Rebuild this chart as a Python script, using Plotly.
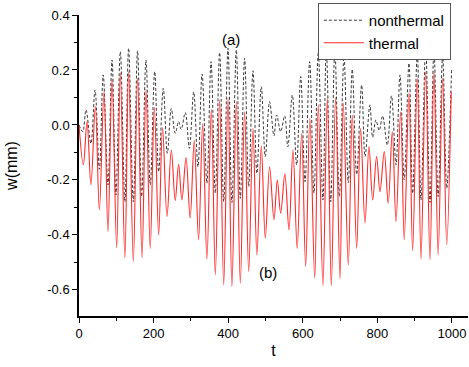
import plotly.graph_objects as go

# nonthermal: local extrema (t, w)
nt_t = [0, 10, 18.8, 32, 43, 54.6, 65, 77.7, 88.5, 99, 110.8, 123, 133, 145.7, 157, 168,
        179.6, 191, 203, 213.6, 226, 236.8, 247.5, 258, 267, 274, 285, 296, 307.5, 319, 330,
        343, 354, 365.5, 377, 388, 399.5, 410, 421.8, 432.5, 444, 455, 466.5, 477, 488.8,
        499.5, 511, 522.8, 530, 540.7, 551.5, 560, 572, 583.6, 594.4, 606, 618.5, 630,
        641.6, 654, 663, 674.8, 686, 698, 710.5, 722, 732.7, 744.5, 757.8, 767, 780, 787.4,
        796, 805, 814, 826.7, 838, 850, 860.6, 872, 884.7, 894.5, 907, 917, 929.5, 941,
        951.7, 963, 975, 986, 999]
nt_w = [0, -0.024, 0.055, -0.067, 0.127, -0.161, 0.182, -0.218, 0.236, -0.255, 0.267,
        -0.279, 0.279, -0.279, 0.27, -0.26, 0.236, -0.218, 0.194, -0.17, 0.133, -0.103,
        0.06, -0.03, 0.012, -0.016, 0.045, -0.085, 0.12, -0.152, 0.185, -0.212, 0.23,
        -0.248, 0.263, -0.279, 0.279, -0.282, 0.273, -0.267, 0.242, -0.224, 0.197, -0.176,
        0.139, -0.115, 0.085, -0.04, 0.036, -0.024, 0.033, -0.079, 0.109, -0.145, 0.176,
        -0.206, 0.23, -0.248, 0.263, -0.273, 0.279, -0.279, 0.273, -0.26, 0.248, -0.21,
        0.202, -0.18, 0.145, -0.115, 0.073, -0.045, 0.018, -0.02, 0.033, -0.073, 0.106,
        -0.145, 0.182, -0.2, 0.224, -0.248, 0.26, -0.273, 0.279, -0.282, 0.275, -0.26,
        0.251, -0.23, 0.206]

# thermal: local extrema (t, w)
th_t = [0, 11.6, 21.5, 32, 43.8, 54.6, 67, 77.7, 88.5, 101, 110.8, 123, 133, 145.7, 157,
        169, 179.6, 191, 202, 213.6, 224, 236, 247.5, 258, 267, 276, 287, 298, 309, 320.6,
        331.6, 343, 354.8, 365.5, 377, 388, 399.5, 410, 421.8, 432.5, 444, 455, 466.5, 477,
        488.8, 499.5, 511, 522.8, 531.7, 540.7, 552, 563, 573.7, 585, 597, 607.7, 619, 632,
        641.6, 654, 665.7, 676.5, 688, 699.7, 708.6, 722, 732.7, 744.5, 755, 766.8, 777.5,
        787.4, 798, 807, 818.5, 829, 840, 850, 862.4, 872, 884.7, 894.5, 907, 917, 929.5,
        941, 951.7, 963, 975, 986, 998]
th_w = [0, -0.145, 0.012, -0.218, 0.067, -0.309, 0.121, -0.388, 0.166, -0.446, 0.19,
        -0.485, 0.194, -0.497, 0.17, -0.484, 0.13, -0.449, 0.064, -0.40, -0.009, -0.333,
        -0.091, -0.275, -0.143, -0.273, -0.119, -0.339, -0.057, -0.418, 0.004, -0.488,
        0.055, -0.545, 0.091, -0.582, 0.099, -0.588, 0.085, -0.576, 0.048, -0.533, -0.012,
        -0.473, -0.076, -0.412, -0.152, -0.345, -0.2, -0.321, -0.178, -0.382, -0.09,
        -0.449, -0.03, -0.515, 0.024, -0.557, 0.073, -0.585, 0.097, -0.585, 0.101, -0.56,
        0.079, -0.509, 0.036, -0.449, -0.012, -0.357, -0.079, -0.273, -0.115, -0.243,
        -0.097, -0.285, -0.024, -0.352, 0.048, -0.418, 0.117, -0.457, 0.17, -0.488, 0.194,
        -0.491, 0.194, -0.473, 0.17, -0.436, 0.121]

x_ticks = [0, 200, 400, 600, 800, 1000]
x_labels = ["0", "200", "400", "600", "800", "1000"]
y_ticks = [0.4, 0.2, 0.0, -0.2, -0.4, -0.6]
y_labels = ["0.4", "0.2", "0.0", "-0.2", "-0.4", "-0.6"]

FONT = "Liberation Sans, Arial, sans-serif"

fig = go.Figure()
fig.add_trace(go.Scatter(x=nt_t, y=nt_w, mode="lines", name="nonthermal",
                         line=dict(color="#222222", width=0.9, dash="3px,2px",
                                   shape="spline", smoothing=1.0)))
fig.add_trace(go.Scatter(x=th_t, y=th_w, mode="lines", name="thermal",
                         line=dict(color="#ff2a2a", width=1.1,
                                   shape="spline", smoothing=1.0)))

fig.add_annotation(x=407, y=0.31, text="(a)", showarrow=False,
                   font=dict(size=15, color="black", family=FONT))
fig.add_annotation(x=507, y=-0.537, text="(b)", showarrow=False,
                   font=dict(size=15, color="black", family=FONT))

axis_common = dict(showgrid=False, zeroline=False, showline=True, linecolor="black",
                   linewidth=1.5, ticks="outside", tickcolor="black", tickwidth=1.2,
                   ticklen=5, mirror=False,
                   tickfont=dict(size=13, color="black", family=FONT))

fig.update_xaxes(range=[0, 1043], tickvals=x_ticks, ticktext=x_labels,
                 title=dict(text="t", font=dict(size=16, color="black", family=FONT),
                            standoff=4),
                 minor=dict(ticks="outside", dtick=100, tick0=0, ticklen=3,
                            tickcolor="black", tickwidth=1.2),
                 **axis_common)
fig.update_yaxes(range=[-0.695, 0.4], tickvals=y_ticks, ticktext=y_labels,
                 title=dict(text="w(mm)", font=dict(size=16, color="black", family=FONT),
                            standoff=26),
                 minor=dict(ticks="outside", dtick=0.1, tick0=0, ticklen=3,
                            tickcolor="black", tickwidth=1.2),
                 **axis_common)

fig.update_layout(
    width=469, height=367,
    margin=dict(l=79, r=1, t=15, b=51),
    paper_bgcolor="white", plot_bgcolor="white",
    showlegend=True,
    legend=dict(x=0.614, y=1.04, xanchor="left", yanchor="top",
                bgcolor="white", bordercolor="#555555", borderwidth=1,
                font=dict(size=15, color="black", family=FONT),
                tracegroupgap=0, itemwidth=40),
)

fig.write_html("out.html", config={"displayModeBar": False},
               post_script="document.body.style.margin='0';document.body.style.padding='0';")
